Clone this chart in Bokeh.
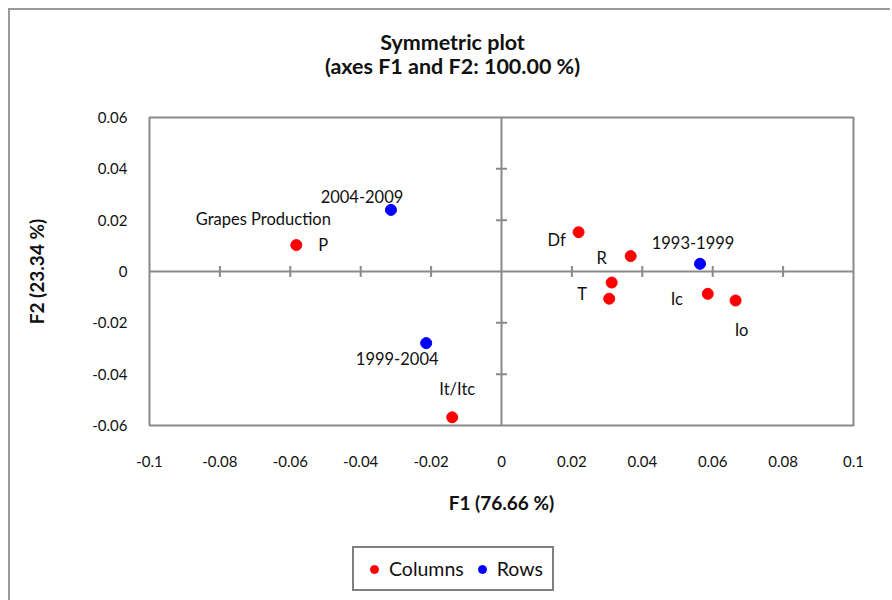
import math
from bokeh.plotting import figure
from bokeh.layouts import column
from bokeh.models import (ColumnDataSource, Span, Legend, LegendItem,
                          FixedTicker, Range1d)
from bokeh.core.properties import value
from bokeh.embed import file_html
from bokeh.resources import INLINE

# ---------------- data ----------------
col_f1 = [-0.0583, -0.0140, 0.0219, 0.0367, 0.0313, 0.0306, 0.0586, 0.0665]
col_f2 = [0.0103, -0.0568, 0.0153, 0.0060, -0.0043, -0.0106, -0.0087, -0.0113]
col_text = ["P", "It/Itc", "Df", "R", "", "T", "Ic", "Io"]

row_names = ["2004-2009", "1999-2004", "1993-1999"]
row_f1 = [-0.0314, -0.0214, 0.0564]
row_f2 = [0.0240, -0.0279, 0.0030]

extra_label = "Grapes Production"

x_ticks = [-0.1, -0.08, -0.06, -0.04, -0.02, 0, 0.02, 0.04, 0.06, 0.08, 0.1]
x_tick_labels = ["-0.1", "-0.08", "-0.06", "-0.04", "-0.02", "0", "0.02", "0.04", "0.06", "0.08", "0.1"]
y_ticks = [-0.06, -0.04, -0.02, 0, 0.02, 0.04, 0.06]
y_tick_labels = ["-0.06", "-0.04", "-0.02", "0", "0.02", "0.04", "0.06"]
x_inner_ticks = [-0.08, -0.06, -0.04, -0.02, 0.02, 0.04, 0.06, 0.08]
y_inner_ticks = [-0.04, -0.02, 0.02, 0.04]

title_lines = ["Symmetric plot", "(axes F1 and F2: 100.00 %)"]
x_title = "F1 (76.66 %)"
y_title = "F2 (23.34 %)"
legend_labels = ["Columns", "Rows"]

# ---------------- style ----------------
FONT = "Lato"
GRAY = "#8a8a8a"
TXT = "#111111"
RED = "#ff0000"
BLUE = "#0000ff"

col_dx = [27, 5, -22, -29, 0, -27, -31, 6]
col_dy = [0, -28, 8, 2, 0, -5, 5, 29]
row_dx = [-29, -29, -7]
row_dy = [-13, 15, -21]

W = 880

# ---------------- title strip ----------------
t = figure(width=W, height=80, min_border=0,
           x_axis_type=None, y_axis_type=None,
           x_range=Range1d(0, 1), y_range=Range1d(0, 1),
           output_backend="svg", toolbar_location=None,
           background_fill_color="white", border_fill_color="white")
t.grid.visible = False
t.outline_line_color = None
t.text(x=[0, 0], y=[1, 1], text=title_lines, x_offset=[303, 303], y_offset=[31, 55],
       text_font=value(FONT), text_font_size="21.5px", text_font_style="bold",
       text_color=TXT, text_align="center", text_baseline="middle")

# ---------------- main plot ----------------
p = figure(frame_width=704, frame_height=308,
           min_border_left=139, min_border_top=27,
           min_border_right=37, min_border_bottom=105,
           x_range=Range1d(-0.1, 0.1), y_range=Range1d(-0.06, 0.06),
           output_backend="svg", toolbar_location=None, title=None,
           background_fill_color="white", border_fill_color="white")

p.grid.visible = False
p.outline_line_color = GRAY
p.outline_line_width = 2

for ax, ticks, labels in ((p.xaxis[0], x_ticks, x_tick_labels), (p.yaxis[0], y_ticks, y_tick_labels)):
    ax.ticker = FixedTicker(ticks=ticks)
    ax.major_label_overrides = {tk: lb for tk, lb in zip(ticks, labels)}
    ax.axis_line_color = None
    ax.major_tick_line_color = None
    ax.minor_tick_line_color = None
    ax.major_label_text_font = FONT
    ax.major_label_text_font_size = "15px"
    ax.major_label_text_color = TXT
    ax.axis_label_text_font = FONT
    ax.axis_label_text_font_size = "19px"
    ax.axis_label_text_font_style = "bold"
    ax.axis_label_text_color = TXT

p.xaxis.axis_label = x_title
p.yaxis.axis_label = y_title
p.xaxis.major_label_standoff = 24
p.yaxis.major_label_standoff = 16
p.xaxis.axis_label_standoff = 21
p.yaxis.axis_label_standoff = 41

p.add_layout(Span(location=0, dimension="width", line_color=GRAY, line_width=2))
p.add_layout(Span(location=0, dimension="height", line_color=GRAY, line_width=2))
p.scatter(x=x_inner_ticks, y=[0] * len(x_inner_ticks), marker="dash", size=11,
          angle=math.pi / 2, line_color=GRAY, line_width=2)
p.scatter(x=[0] * len(y_inner_ticks), y=y_inner_ticks, marker="dash", size=11,
          line_color=GRAY, line_width=2)

csrc = ColumnDataSource(dict(x=col_f1, y=col_f2, t=col_text, dx=col_dx, dy=col_dy))
rsrc = ColumnDataSource(dict(x=row_f1, y=row_f2, t=row_names, dx=row_dx, dy=row_dy))

p.scatter("x", "y", source=csrc, size=11, fill_color=RED, line_color=RED)
p.scatter("x", "y", source=rsrc, size=11, fill_color=BLUE, line_color=BLUE)

for src in (csrc, rsrc):
    p.text("x", "y", text="t", source=src, x_offset="dx", y_offset="dy",
           text_font=value(FONT), text_font_size="16.5px", text_color=TXT,
           text_align="center", text_baseline="middle")

p.text(x=[col_f1[0]], y=[col_f2[0]], text=[extra_label], x_offset=-33, y_offset=-26,
       text_font=value(FONT), text_font_size="16.5px", text_color=TXT,
       text_align="center", text_baseline="middle")

# ---------------- legend strip ----------------
q = figure(width=W, height=70, min_border=0,
           x_axis_type=None, y_axis_type=None,
           x_range=Range1d(0, 1), y_range=Range1d(0, 1),
           output_backend="svg", toolbar_location=None,
           background_fill_color="white", border_fill_color="white")
q.grid.visible = False
q.outline_line_color = None
# legend swatch renderers: one point each, placed outside the visible range
lc = q.scatter(x=[-5], y=[-5], size=11, fill_color=RED, line_color=RED)
lr = q.scatter(x=[-5], y=[-5], size=11, fill_color=BLUE, line_color=BLUE)
legend = Legend(items=[LegendItem(label=legend_labels[0], renderers=[lc]),
                       LegendItem(label=legend_labels[1], renderers=[lr])],
                orientation="horizontal", location=(203, 9),
                border_line_color="black", border_line_width=2,
                label_text_font=FONT, label_text_font_size="19.5px", label_text_color=TXT,
                glyph_width=22, glyph_height=20, spacing=7, padding=9,
                label_standoff=4, margin=0)
q.add_layout(legend, "center")

layout = column(t, p, q, spacing=0)
layout.styles = {"margin-left": "8px", "margin-top": "8px",
                 "border-left": "2px solid #9a9a9a", "border-top": "2px solid #9a9a9a"}

open("out.html", "w").write(file_html(layout, INLINE))
